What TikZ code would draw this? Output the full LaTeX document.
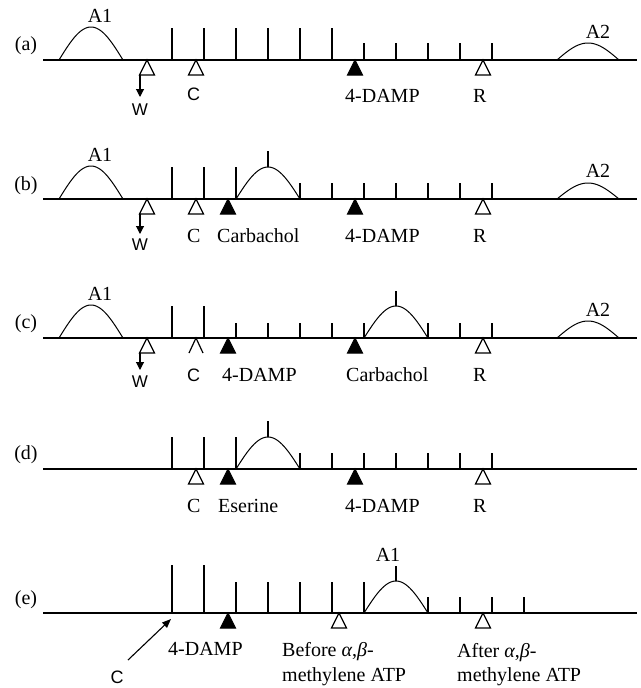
\documentclass[tikz,border=0pt]{standalone}
\usepackage{fontspec}
\setmainfont{Liberation Serif}
\newfontfamily\sansf{Liberation Sans}
\usetikzlibrary{arrows.meta}
\newcommand\TickAt[3]{\draw[tk] (#1,#2) -- ++(0,#3);}
\newcommand\OTri[2]{\draw[otri] (#1,#2) -- ++(-7.5,15) -- ++(15,0) -- cycle;}
\newcommand\FTri[2]{\filldraw[ftri] (#1,#2) -- ++(-7.5,15) -- ++(15,0) -- cycle;}
\newcommand\Hump[4]{\draw[hump] plot[domain=0:180,samples=40] ({#1+(#2-#1)*\x/180},{#3-#4*sin(\x)});}
\begin{document}
\begin{tikzpicture}[x=1pt,y=-1pt,
  base/.style={line width=1.4pt},
  tk/.style={line width=1.3pt},
  hump/.style={line width=1pt},
  otri/.style={line width=1.2pt, fill=white},
  ftri/.style={line width=1pt, fill=black},
  lbl/.style={font=\fontsize{20}{24}\selectfont, inner sep=0pt, anchor=base west},
  clbl/.style={font=\fontsize{20}{24}\selectfont, inner sep=0pt, anchor=base},
  plbl/.style={font=\fontsize{20}{24}\selectfont, inner sep=0pt, anchor=center},
  slbl/.style={font=\sansf\fontsize{18}{22}\selectfont, inner sep=0pt, anchor=base west},
  wlbl/.style={font=\sansf\fontsize{17}{20}\selectfont, inner sep=0pt, anchor=base},
  warrow/.style={line width=1.1pt, -{Triangle[length=8pt,width=8pt]}},
  carrow/.style={line width=1.1pt, -{Triangle[length=9pt,width=7pt]}}
]
\useasboundingbox (0,0) rectangle (640,688);
\fill[white] (0,0) rectangle (640,688);

% ---------- (a) ----------
\node[plbl] (pa) at (26,46) {(a)};
\draw[base] (43,60) -- (637,60);
\Hump{59}{123}{60}{33}
\Hump{557}{619}{60}{17}
\foreach \t in {172,204,236,268,300,332} {\TickAt{\t}{60}{-32}}
\foreach \t in {364,396,428,460,492} {\TickAt{\t}{60}{-17}}
\OTri{147}{60}
\OTri{196}{60}
\FTri{355}{60}
\OTri{483}{60}
\coordinate (wa0) at (140,75);
\coordinate (wa1) at (140,97);
\draw[warrow] (wa0) -- (wa1);
\node[wlbl] (Wa) at (140,115) {W};
\node[slbl] (Ca) at (187,100) {C};
\node[lbl] (Da) at (345,102) {4-DAMP};
\node[lbl] (Ra) at (473,102) {R};
\node[clbl] (A1a) at (100,22) {A1};
\node[clbl] (A2a) at (598,38) {A2};

% ---------- (b) ----------
\node[plbl] (pb) at (26,186) {(b)};
\draw[base] (43,199) -- (637,199);
\Hump{59}{123}{199}{33}
\Hump{557}{619}{199}{16}
\foreach \t in {172,204,236} {\TickAt{\t}{199}{-32}}
\Hump{236}{300}{199}{32}
\draw[tk] (268,167) -- (268,151);
\foreach \t in {300,332,364,396,428,460,492} {\TickAt{\t}{199}{-16}}
\OTri{147}{199}
\OTri{196}{199}
\FTri{228}{199}
\FTri{355}{199}
\OTri{483}{199}
\coordinate (wb0) at (140,214);
\coordinate (wb1) at (140,234);
\draw[warrow] (wb0) -- (wb1);
\node[wlbl] (Wb) at (140,250) {W};
\node[lbl] (Cb) at (187,242) {C};
\node[lbl] (Kb) at (217,242) {Carbachol};
\node[lbl] (Db) at (345,242) {4-DAMP};
\node[lbl] (Rb) at (473,242) {R};
\node[clbl] (A1b) at (100,161) {A1};
\node[clbl] (A2b) at (598,177) {A2};

% ---------- (c) ----------
\node[plbl] (pc) at (26,324) {(c)};
\draw[base] (43,338) -- (637,338);
\Hump{59}{123}{338}{33}
\Hump{557}{619}{338}{17}
\foreach \t in {172,204} {\TickAt{\t}{338}{-32}}
\foreach \t in {236,268,300,332,364} {\TickAt{\t}{338}{-15}}
\Hump{364}{428}{338}{32}
\draw[tk] (396,306) -- (396,291);
\foreach \t in {428,460,492} {\TickAt{\t}{338}{-15}}
\OTri{147}{338}
\draw[otri, fill=none] (189,353) -- (196,338) -- (203,353);
\FTri{228}{338}
\FTri{355}{338}
\OTri{483}{338}
\coordinate (wc0) at (140,353);
\coordinate (wc1) at (140,370);
\draw[warrow] (wc0) -- (wc1);
\node[wlbl] (Wc) at (140,387) {W};
\node[slbl] (Cc) at (187,381) {C};
\node[lbl] (Dc) at (222,381) {4-DAMP};
\node[lbl] (Kc) at (346,381) {Carbachol};
\node[lbl] (Rc) at (473,381) {R};
\node[clbl] (A1c) at (100,300) {A1};
\node[clbl] (A2c) at (598,316) {A2};

% ---------- (d) ----------
\node[plbl] (pd) at (26,455) {(d)};
\draw[base] (43,469) -- (637,469);
\foreach \t in {172,204,236} {\TickAt{\t}{469}{-32}}
\Hump{236}{300}{469}{32}
\draw[tk] (268,437) -- (268,421);
\foreach \t in {300,332,364,396,428,460,492} {\TickAt{\t}{469}{-16}}
\OTri{196}{469}
\FTri{228}{469}
\FTri{355}{469}
\OTri{483}{469}
\node[lbl] (Cd) at (187,512) {C};
\node[lbl] (Ed) at (218,512) {Eserine};
\node[lbl] (Dd) at (345,512) {4-DAMP};
\node[lbl] (Rd) at (473,512) {R};

% ---------- (e) ----------
\node[plbl] (pe) at (26,600) {(e)};
\draw[base] (43,613) -- (637,613);
\foreach \t in {172,204} {\TickAt{\t}{613}{-48}}
\foreach \t in {236,268,300,332,364} {\TickAt{\t}{613}{-31}}
\Hump{364}{428}{613}{32}
\draw[tk] (396,581) -- (396,566);
\foreach \t in {428,460,492,524} {\TickAt{\t}{613}{-16}}
\FTri{228}{613}
\OTri{339}{613}
\OTri{483}{613}
\node[clbl] (A1e) at (388,561) {A1};
\node[lbl] (De) at (168,655) {4-DAMP};
\node[lbl] (Be1) at (282,656) {Before {\itshape α},{\itshape β}-};
\node[lbl] (Be2) at (282,681) {methylene ATP};
\node[lbl] (Af1) at (457,657) {After {\itshape α},{\itshape β}-};
\node[lbl] (Af2) at (457,681) {methylene ATP};
\node[font=\sansf\fontsize{18}{22}\selectfont, inner sep=0pt, anchor=north] (Ce) at (117,671) {C};
\coordinate (ce0) at (128,660);
\coordinate (ce1) at (171,619);
\draw[carrow] (ce0) -- (ce1);
\end{tikzpicture}
\end{document}
